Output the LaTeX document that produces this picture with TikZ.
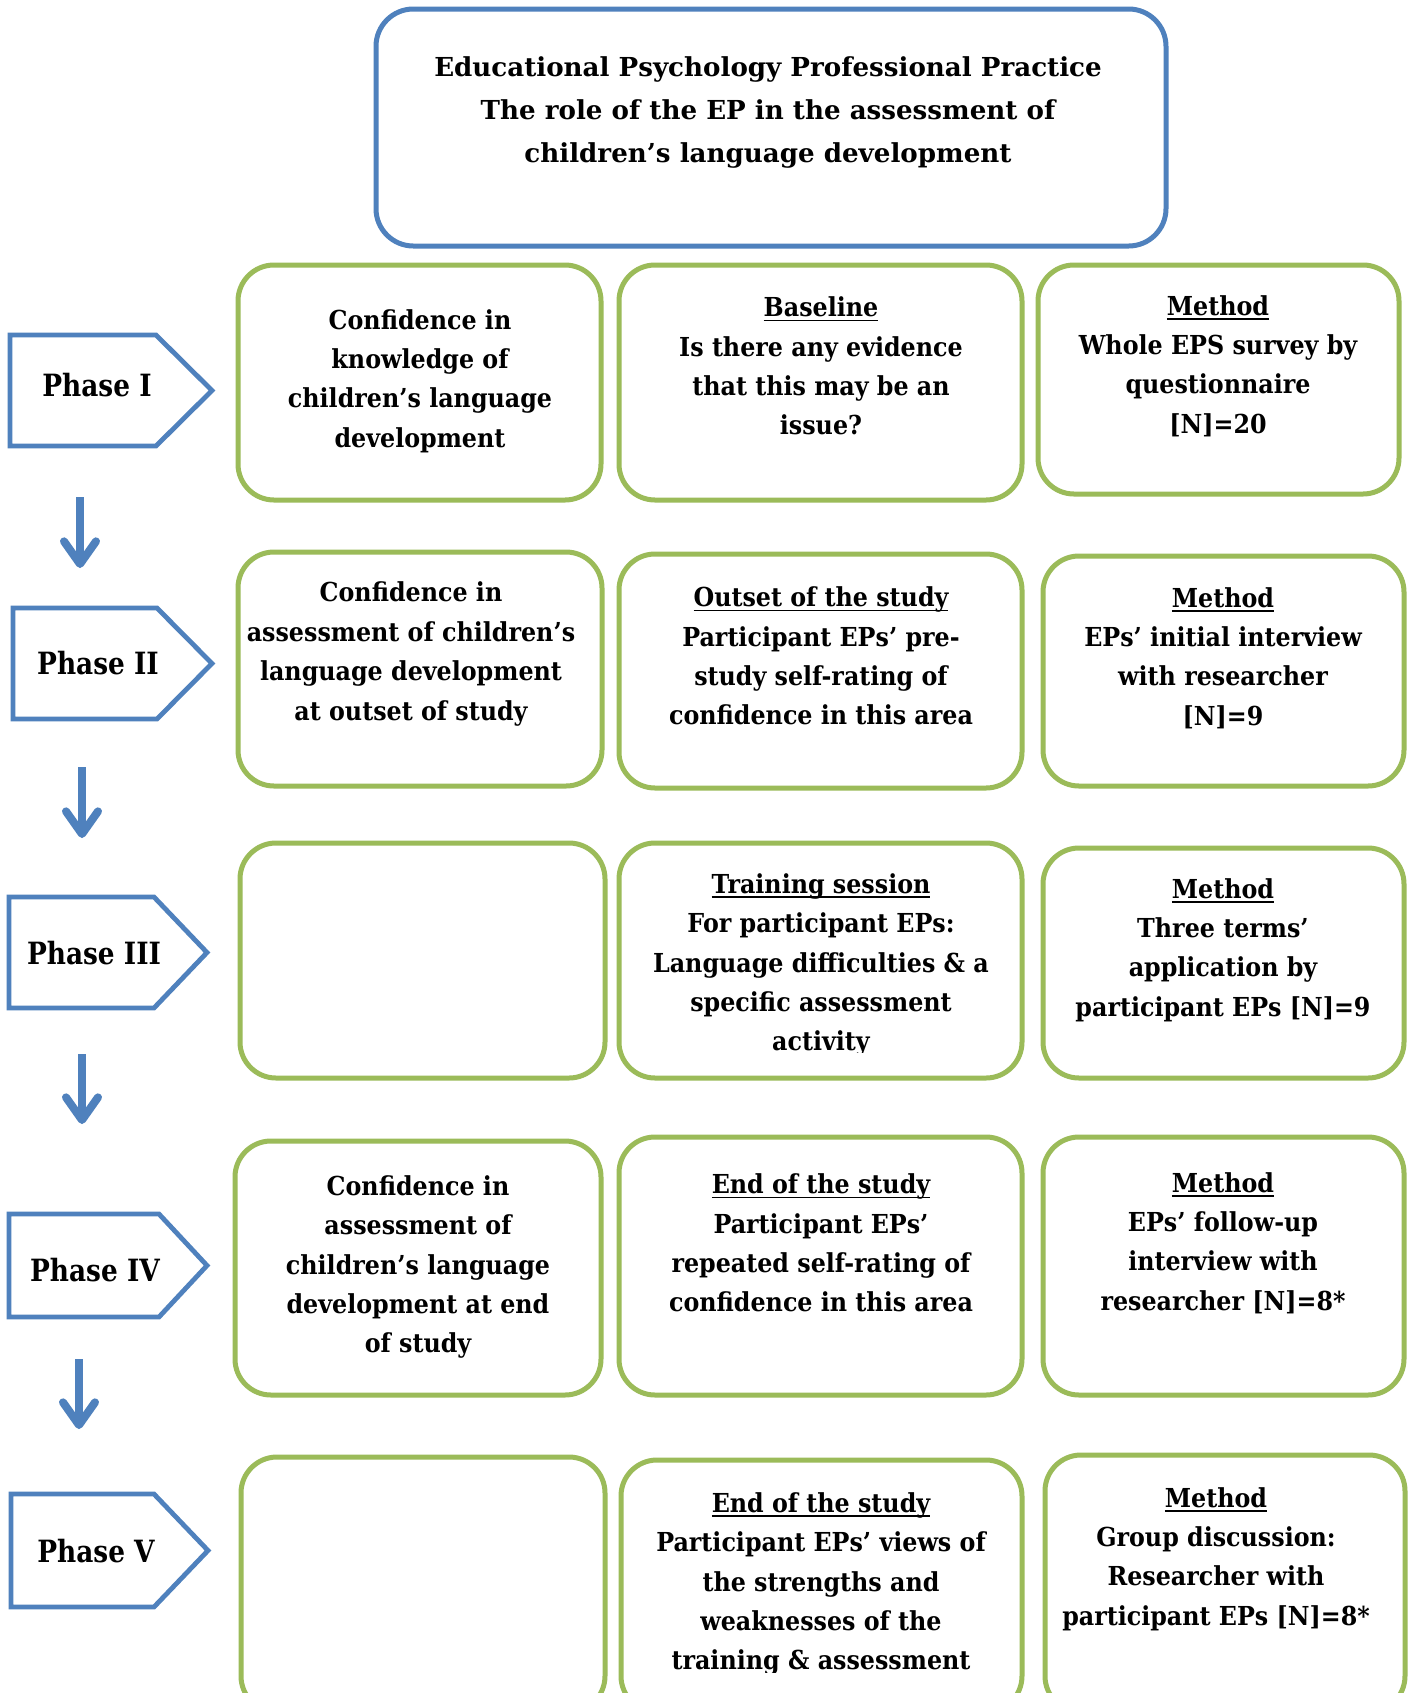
\documentclass[tikz,border=0pt]{standalone}
\usepackage{fontspec}
\setmainfont{DejaVu Serif}
\newfontfamily\bodyfont{DejaVu Serif}[FakeStretch=0.91]
\newfontfamily\phasefont{DejaVu Serif}[FakeStretch=0.86]
\usetikzlibrary{arrows.meta,fit}
\definecolor{epblue}{HTML}{4F81BD}
\definecolor{epgreen}{HTML}{9BBB59}
\newcommand\myul[1]{\setbox0\hbox{#1}\rlap{\rule[-3.6pt]{\wd0}{1.3pt}}\box0}
\tikzset{
  gbox/.style={draw=epgreen, line width=3.75pt, rounded corners=27pt, inner sep=0pt},
  tbox/.style={draw=epblue, line width=3.75pt, rounded corners=28pt, inner sep=0pt},
  pent/.style={draw=epblue, line width=3.6pt, line join=miter},
  txt/.style={align=center, font=\bodyfont\bfseries\fontsize{19.6}{29.55}\selectfont, inner sep=0pt},
  ttl/.style={align=center, font=\bfseries\fontsize{19.6}{32.25}\selectfont, inner sep=0pt},
  phs/.style={font=\phasefont\bfseries\fontsize{23}{26}\selectfont, inner sep=0pt},
  flow/.style={draw=epblue, line width=6pt, -{Straight Barb[length=17pt,width=24pt,round]}}
}
\begin{document}
\begin{tikzpicture}[x=0.75pt,y=-0.75pt]
\useasboundingbox (0,0) rectangle (1410,1693);
\clip (0,0) rectangle (1410,1693);
\fill[white] (0,0) rectangle (1410,1693);

% title
\node[tbox, fit={(376,9) (1166,246)}] (title) {};
\node[ttl] (titletext) at (768,112) {Educational Psychology Professional Practice\\The role of the EP in the assessment of\\children’s language development};

% phases
\node[phs] (p1) at (97,385) {Phase I};
\draw[pent] (10,335) -- (156,335) -- (212,390.5) -- (156,446) -- (10,446) -- cycle;
\node[phs] (p2) at (98,663) {Phase II};
\draw[pent] (13,608) -- (157,608) -- (212,663.5) -- (157,719) -- (13,719) -- cycle;
\node[phs] (p3) at (94,953) {Phase III};
\draw[pent] (9,897) -- (154,897) -- (207,952.5) -- (154,1008) -- (9,1008) -- cycle;
\node[phs] (p4) at (95,1270) {Phase IV};
\draw[pent] (9,1214) -- (159,1214) -- (207,1265.5) -- (159,1317) -- (9,1317) -- cycle;
\node[phs] (p5) at (96,1551) {Phase V};
\draw[pent] (11,1494) -- (154,1494) -- (208,1550.5) -- (154,1607) -- (11,1607) -- cycle;

% arrows
\coordinate (a1s) at (80,497);  \coordinate (a1e) at (80,568);
\coordinate (a2s) at (82,767);  \coordinate (a2e) at (82,838);
\coordinate (a3s) at (82,1054); \coordinate (a3e) at (82,1124);
\coordinate (a4s) at (79,1359); \coordinate (a4e) at (79,1429);
\draw[flow] (a1s) -- (a1e);
\draw[flow] (a2s) -- (a2e);
\draw[flow] (a3s) -- (a3e);
\draw[flow] (a4s) -- (a4e);

% row 1
\node[gbox, fit={(238,265) (601,500)}] (b11) {};
\node[gbox, fit={(619,265) (1022,500)}] (b12) {};
\node[gbox, fit={(1038,265) (1399,494)}] (b13) {};
\node[txt] (t11) at (420,381) {Confidence in\\knowledge of\\children’s language\\development};
\node[txt] (t12) at (821,366) {\myul{Baseline}\\Is there any evidence\\that this may be an\\issue?};
\node[txt] (t13) at (1218,366) {\myul{Method}\\Whole EPS survey by\\questionnaire\\{[N]=20}};

% row 2
\node[gbox, fit={(238,552) (602,786)}] (b21) {};
\node[gbox, fit={(619,554) (1022,788)}] (b22) {};
\node[gbox, fit={(1043,556) (1404,786)}] (b23) {};
\node[txt] (t21) at (411,654) {Confidence in\\assessment of children’s\\language development\\at outset of study};
\node[txt] (t22) at (821,656) {\myul{Outset of the study}\\Participant EPs’ pre-\\study self-rating of\\confidence in this area};
\node[txt] (t23) at (1223,658) {\myul{Method}\\EPs’ initial interview\\with researcher\\{[N]=9}};

% row 3
\node[gbox, fit={(240,843) (605,1078)}] (b31) {};
\node[gbox, fit={(619,843) (1022,1078)}] (b32) {};
\node[gbox, fit={(1043,848) (1404,1078)}] (b33) {};
\begin{scope}
\clip (630,850) rectangle (1010,1052);
\node[txt] (t32) at (821,965) {\myul{Training session}\\For participant EPs:\\Language difficulties \& a\\specific assessment\\activity};
\end{scope}
\node[txt] (t33) at (1223,950) {\myul{Method}\\Three terms’\\application by\\participant EPs [N]=9};

% row 4
\node[gbox, fit={(235,1141) (601,1395)}] (b41) {};
\node[gbox, fit={(619,1137) (1022,1395)}] (b42) {};
\node[gbox, fit={(1043,1137) (1404,1395)}] (b43) {};
\node[txt] (t41) at (418,1267) {Confidence in\\assessment of\\children’s language\\development at end\\of study};
\node[txt] (t42) at (821,1243) {\myul{End of the study}\\Participant EPs’\\repeated self-rating of\\confidence in this area};
\node[txt] (t43) at (1223,1243) {\myul{Method}\\EPs’ follow-up\\interview with\\researcher [N]=8*};

% row 5
\node[gbox, fit={(241,1457) (605,1712)}] (b51) {};
\node[gbox, fit={(621,1460) (1022,1712)}] (b52) {};
\node[gbox, fit={(1045,1455) (1405,1712)}] (b53) {};
\begin{scope}
\clip (630,1465) rectangle (1010,1672);
\node[txt] (t52) at (821,1584) {\myul{End of the study}\\Participant EPs’ views of\\the strengths and\\weaknesses of the\\training \& assessment};
\end{scope}
\node[txt] (t53) at (1216,1559) {\myul{Method}\\Group discussion:\\Researcher with\\participant EPs [N]=8*};
\end{tikzpicture}
\end{document}
